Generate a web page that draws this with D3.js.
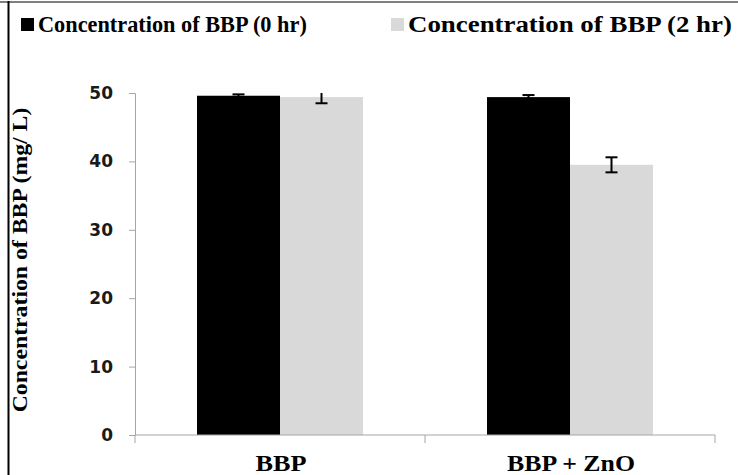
<!DOCTYPE html>
<html>
<head>
<meta charset="utf-8">
<script src="https://cdn.jsdelivr.net/npm/d3@7"></script>
<style>
  body { margin: 0; background: #fff; }
  svg { display: block; }
  .serif { font-family: 'Liberation Serif', 'Times New Roman', serif; font-weight: bold; }
</style>
</head>
<body>
<script>
'use strict';

var categories = ['BBP', 'BBP + ZnO'];
var seriesNames = ['Concentration of BBP (0 hr)', 'Concentration of BBP (2 hr)'];
var seriesColors = ['#000000', '#d9d9d9'];
var values0 = [49.6, 49.4];
var values2 = [49.4, 39.5];
var errors0 = [0.2, 0.3];
var errors2 = [0.9, 1.1];
var yTicks = [0, 10, 20, 30, 40, 50];

var W = 738, H = 475;

var svg = d3.select('body').append('svg')
  .attr('width', W)
  .attr('height', H);

// frame
svg.append('line')
  .attr('x1', 0).attr('x2', W).attr('y1', 2).attr('y2', 2)
  .style('stroke', '#7f7f7f').style('stroke-width', 2);
svg.append('line')
  .attr('x1', 8.5).attr('x2', 8.5).attr('y1', 1).attr('y2', H)
  .style('stroke', '#000').style('stroke-width', 2);

var y = d3.scaleLinear().domain([0, 50]).range([435, 93]);
var x0 = d3.scaleBand().domain(categories).range([135, 715]).padding(0);
var x1 = d3.scaleBand().domain([0, 1]).range([0, x0.bandwidth()])
  .paddingInner(0).paddingOuter(0.747);

svg.append('clipPath').attr('id', 'plotclip')
  .append('rect')
  .attr('x', 135).attr('y', y(50)).attr('width', 580).attr('height', y(0) - y(50));

var flat = [];
categories.forEach(function (c, i) {
  flat.push({cat: c, s: 0, v: values0[i], e: errors0[i]});
  flat.push({cat: c, s: 1, v: values2[i], e: errors2[i]});
});

svg.append('g').selectAll('rect').data(flat).enter().append('rect')
  .attr('x', function (d) { return x0(d.cat) + x1(d.s); })
  .attr('y', function (d) { return y(d.v); })
  .attr('width', x1.bandwidth())
  .attr('height', function (d) { return y(0) - y(d.v); })
  .style('fill', function (d) { return seriesColors[d.s]; });

// error bars, clipped at the top of the axis like the original
var eb = svg.append('g').attr('clip-path', 'url(#plotclip)')
  .selectAll('g').data(flat).enter().append('g')
  .attr('transform', function (d) {
    return 'translate(' + (x0(d.cat) + x1(d.s) + x1.bandwidth() / 2) + ',0)';
  });
eb.append('line')
  .attr('y1', function (d) { return y(d.v + d.e); })
  .attr('y2', function (d) { return y(d.v - d.e); })
  .style('stroke', '#000').style('stroke-width', 2);
eb.selectAll('.cap').data(function (d) { return [d.v + d.e, d.v - d.e]; })
  .enter().append('line')
  .attr('x1', -6).attr('x2', 6)
  .attr('y1', function (v) { return y(v); })
  .attr('y2', function (v) { return y(v); })
  .style('stroke', '#000').style('stroke-width', 2);

// y axis
var yAxis = svg.append('g')
  .attr('transform', 'translate(135,0)')
  .call(d3.axisLeft(y).tickValues(yTicks).tickSize(6).tickPadding(16));
yAxis.select('.domain').style('stroke', '#a6a6a6');
yAxis.selectAll('.tick line').style('stroke', '#a6a6a6');
yAxis.selectAll('.tick text')
  .style('font-family', '"DejaVu Sans", sans-serif')
  .style('font-weight', 'bold')
  .style('font-size', '17px')
  .style('fill', '#1a1a1a');

// x axis
var xAxis = svg.append('g').attr('transform', 'translate(0,435)');
xAxis.append('line')
  .attr('x1', 135).attr('x2', 715)
  .style('stroke', '#a6a6a6');
xAxis.selectAll('.xt').data([135, x0(categories[1]), 715]).enter().append('line')
  .attr('x1', function (d) { return d; }).attr('x2', function (d) { return d; })
  .attr('y1', 0).attr('y2', 8)
  .style('stroke', '#a6a6a6');

var xlW = [51, 128];
xAxis.selectAll('.xl').data(categories).enter().append('text')
  .attr('class', 'serif')
  .attr('text-anchor', 'middle')
  .style('font-size', '24px')
  .text(function (d) { return d; })
  .each(function (d, i) {
    var sx = xlW[i] / this.getComputedTextLength();
    var cx = x0(d) + x0.bandwidth() / 2 + 1;
    d3.select(this).attr('transform', 'translate(' + cx + ',36) scale(' + sx + ',1)');
  });

// y title
var yt = svg.append('text')
  .attr('class', 'serif')
  .attr('text-anchor', 'middle')
  .style('font-size', '21px')
  .text('Concentration of  BBP (mg/ L)');
var ytS = 305 / yt.node().getComputedTextLength();
yt.attr('transform', 'translate(27,260) rotate(-90) scale(' + ytS + ',1)');

// legend
var legX = [21, 391];
var legTextW = [269, 324];
var leg = svg.selectAll('.leg').data(seriesNames).enter().append('g')
  .attr('transform', function (d, i) { return 'translate(' + legX[i] + ',0)'; });
leg.append('rect')
  .attr('x', 0).attr('y', 18).attr('width', 13).attr('height', 13)
  .style('fill', function (d, i) { return seriesColors[i]; });
leg.append('text')
  .attr('class', 'serif')
  .style('font-size', '24px')
  .text(function (d) { return d; })
  .each(function (d, i) {
    var sx = legTextW[i] / this.getComputedTextLength();
    d3.select(this).attr('transform', 'translate(17,32) scale(' + sx + ',1)');
  });
</script>
</body>
</html>
